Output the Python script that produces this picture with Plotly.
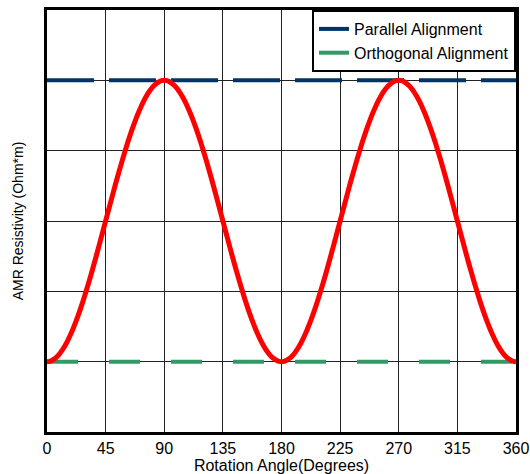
import numpy as np
import plotly.graph_objects as go

# Data
angles = list(range(0, 361, 2))
rho_parallel = 5.0
rho_orthogonal = 1.0
# AMR: rho = rho_perp + (rho_par - rho_perp) * sin^2(theta)
amr = [rho_orthogonal + (rho_parallel - rho_orthogonal) * np.sin(np.radians(a)) ** 2 for a in angles]
x_ticks = [0, 45, 90, 135, 180, 225, 270, 315, 360]
y_grid = [0, 1, 2, 3, 4, 5, 6]

fig = go.Figure()
fig.add_trace(go.Scatter(x=[0, 360], y=[rho_parallel, rho_parallel], mode="lines",
                         name="Parallel Alignment",
                         line=dict(color="#003366", width=4, dash="47px,15px")))
fig.add_trace(go.Scatter(x=[0, 360], y=[rho_orthogonal, rho_orthogonal], mode="lines",
                         name="Orthogonal Alignment",
                         line=dict(color="#339966", width=4, dash="31px,31px")))
fig.add_trace(go.Scatter(x=angles, y=amr, mode="lines", showlegend=False,
                         line=dict(color="#FF0000", width=5, shape="spline")))

fig.update_layout(
    width=530, height=474,
    margin=dict(l=47, r=14, t=10, b=42),
    paper_bgcolor="white", plot_bgcolor="white",
    font=dict(family="Liberation Sans, Arial, sans-serif", color="black"),
    xaxis=dict(range=[0, 360], tickvals=x_ticks, ticktext=[str(t) for t in x_ticks],
               showgrid=True, gridcolor="#222222", gridwidth=1,
               showline=True, linecolor="black", linewidth=3, mirror=True,
               ticks="", ticklen=0, tickfont=dict(size=16), zeroline=False,
               automargin=False,
               title=dict(text="Rotation Angle(Degrees)", font=dict(size=16), standoff=2)),
    yaxis=dict(range=[0, 6], tickvals=y_grid, showticklabels=False,
               showgrid=True, gridcolor="#222222", gridwidth=1,
               showline=True, linecolor="black", linewidth=3, mirror=True,
               ticks="", zeroline=False, automargin=False,
               title=dict(text="AMR Resistivity (Ohm*m)", font=dict(size=14), standoff=18)),
    legend=dict(x=1, y=1, xanchor="right", yanchor="top",
                bgcolor="white", bordercolor="black", borderwidth=2,
                font=dict(size=16), itemwidth=30, tracegroupgap=0),
)

fig.write_html("out.html")
